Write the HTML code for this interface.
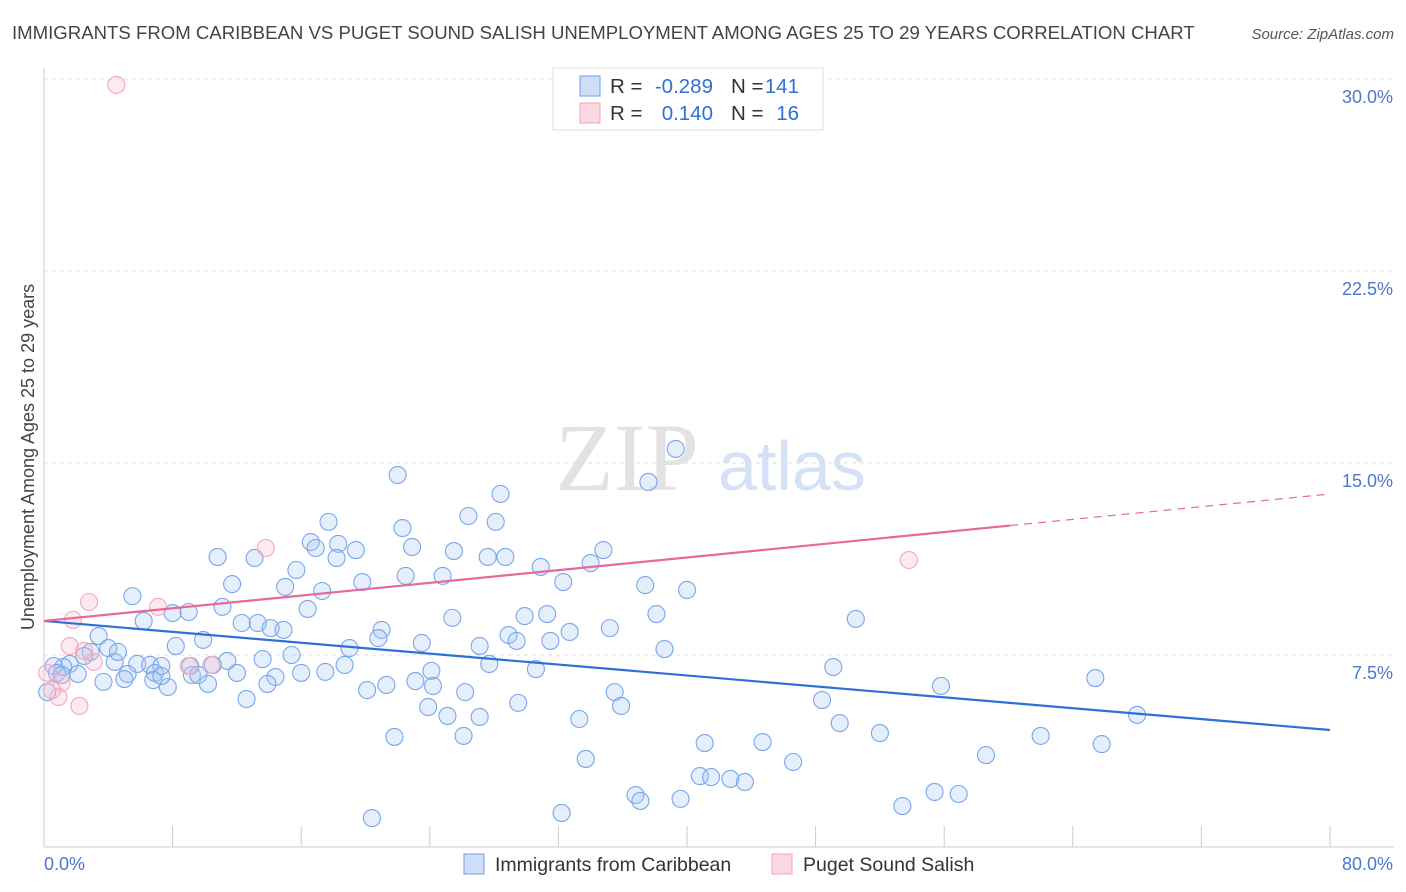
<!DOCTYPE html>
<html><head><meta charset="utf-8">
<style>
body{margin:0;background:#fff;font-family:"Liberation Sans",sans-serif;}
#wrap{position:relative;width:1406px;height:892px;overflow:hidden;}
</style></head>
<body>
<div id="wrap">
<svg id="svg" width="1406" height="892" xmlns="http://www.w3.org/2000/svg"></svg>
</div>
<script>
const blueX=[39.3,37.6,22.0,28.4,26.4,28.1,17.7,22.3,16.6,18.3,16.9,19.4,22.9,25.5,27.6,28.7,34.8,10.8,13.1,18.2,34.0,30.9,15.7,22.5,24.8,11.7,19.8,32.3,37.4,15.0,17.3,40.0,5.5,11.1,16.4,8.0,9.0,29.9,31.3,38.1,25.4,6.2,12.3,13.3,14.1,14.9,21.0,32.7,35.2,50.5,3.4,28.9,20.8,29.4,31.5,9.9,23.5,8.2,19.0,27.1,4.0,38.6,2.9,2.5,15.4,11.4,13.6,4.4,5.8,6.6,7.3,9.1,10.5,18.7,27.7,49.1,1.6,1.2,0.6,0.8,2.1,5.2,6.9,9.2,9.6,12.0,14.4,16.0,17.5,24.1,30.6,65.4,3.7,5.0,6.8,7.7,10.2,13.9,21.3,23.1,24.2,55.8,20.1,26.2,35.5,0.2,12.6,48.4,29.5,35.9,23.9,25.1,27.1,33.3,49.5,68.0,21.8,26.1,52.0,62.0,41.1,44.7,65.8,58.6,33.7,46.6,40.8,41.5,42.7,43.6,36.8,37.1,39.6,55.4,56.9,53.4,32.2,20.4,4.6,1.1,7.3];
const blueY=[15.55,14.26,14.53,13.79,12.93,12.70,12.70,12.46,11.91,11.84,11.68,11.60,11.72,11.56,11.33,11.33,11.60,11.33,11.29,11.29,11.09,10.94,10.82,10.59,10.59,10.27,10.35,10.35,10.23,10.16,10.0,10.04,9.80,9.38,9.30,9.14,9.18,9.02,9.10,9.10,8.95,8.83,8.75,8.75,8.55,8.48,8.48,8.40,8.55,8.91,8.24,8.28,8.16,8.05,8.05,8.09,7.97,7.85,7.77,7.85,7.77,7.73,7.62,7.46,7.50,7.27,7.34,7.23,7.15,7.11,7.07,7.07,7.11,7.11,7.15,7.03,7.15,7.03,7.07,6.80,6.76,6.76,6.80,6.72,6.72,6.80,6.64,6.80,6.84,6.88,6.95,6.60,6.45,6.56,6.52,6.25,6.37,6.37,6.33,6.48,6.29,6.29,6.13,6.05,6.05,6.05,5.78,5.74,5.63,5.51,5.47,5.12,5.08,5.0,4.84,5.16,4.30,4.34,4.45,4.34,4.06,4.10,4.02,3.59,3.44,3.32,2.77,2.73,2.66,2.54,2.03,1.80,1.88,2.15,2.07,1.60,1.33,1.13,7.62,6.72,6.68];
const pinkX=[4.5,13.8,53.8,2.8,7.1,1.8,1.6,2.5,3.1,9.0,10.4,0.2,1.1,0.9,2.2,0.5];
const pinkY=[29.77,11.68,11.21,9.57,9.38,8.87,7.85,7.66,7.23,7.07,7.11,6.80,6.41,5.86,5.51,6.13];
const blueTrend=[8.83,4.57];
const pinkTrend=[8.83,13.79];
const yTicks=[7.5,15.0,22.5,30.0];
const yTickLabels=["7.5%","15.0%","22.5%","30.0%"];

const NS="http://www.w3.org/2000/svg";
const svg=document.getElementById('svg');
const X0=44,X1=1330,Y0=847,PY=25.6;
const sx=v=>X0+(v/80)*(X1-X0);
const sy=v=>Y0-v*PY;
function mk(tag,attrs,parent){const e=document.createElementNS(NS,tag);for(const k in attrs)e.setAttribute(k,attrs[k]);(parent||svg).appendChild(e);return e;}

let t=mk('text',{x:12,y:39,'font-size':18.6,fill:'#444'});t.textContent="IMMIGRANTS FROM CARIBBEAN VS PUGET SOUND SALISH UNEMPLOYMENT AMONG AGES 25 TO 29 YEARS CORRELATION CHART";


t=mk('text',{x:1394,y:39,'font-size':15,fill:'#555','font-style':'italic','text-anchor':'end'});t.textContent="Source: ZipAtlas.com";



t=mk('text',{x:555,y:490,'font-size':96,fill:'#e2e2e2','font-family':'Liberation Serif,serif'});t.textContent="ZIP";


t=mk('text',{x:718,y:490,'font-size':70,fill:'#d5e2f5'});t.textContent="atlas";



yTicks.forEach((v,i)=>{
  const g=mk('line',{x1:X0,x2:1394,y1:sy(v),y2:sy(v),stroke:'#ddd','stroke-dasharray':'4,4'});
  
  
  const l=mk('text',{x:1393,y:sy(v)+24,'font-size':18,fill:'#4a78d0','text-anchor':'end'});l.textContent=yTickLabels[i];
  
  
});
let a=mk('line',{x1:X0,x2:X0,y1:68,y2:Y0,stroke:'#ccc'});


a=mk('line',{x1:X0,x2:1394,y1:Y0,y2:Y0,stroke:'#ccc'});


for(let i=0;i<=10;i++){
  const tk=mk('line',{x1:sx(i*8),x2:sx(i*8),y1:826,y2:Y0,stroke:'#ccc'});
  
  
}
t=mk('text',{x:44,y:870,'font-size':18,fill:'#4a78d0'});t.textContent="0.0%";


t=mk('text',{x:1393,y:870,'font-size':18,fill:'#4a78d0','text-anchor':'end'});t.textContent="80.0%";


t=mk('text',{x:0,y:0,'font-size':18,fill:'#444','text-anchor':'middle',transform:'translate(34,457) rotate(-90)'});t.textContent="Unemployment Among Ages 25 to 29 years";



blueX.forEach((v,i)=>{
  const c=mk('circle',{cx:sx(v),cy:sy(blueY[i]),r:8.5,fill:'rgba(170,198,242,0.3)',stroke:'#78a6ea','stroke-width':1.1});
  
  
});
pinkX.forEach((v,i)=>{
  const c=mk('circle',{cx:sx(v),cy:sy(pinkY[i]),r:8.5,fill:'rgba(248,185,205,0.3)',stroke:'#f2a8be','stroke-width':1.1});
  
  
});
let ln=mk('line',{x1:sx(0),y1:sy(blueTrend[0]),x2:sx(80),y2:sy(blueTrend[1]),stroke:'#2f6fd6','stroke-width':2.2});


const pm=60.1, pv=pinkTrend[0]+(pinkTrend[1]-pinkTrend[0])*pm/80;
ln=mk('line',{x1:sx(0),y1:sy(pinkTrend[0]),x2:sx(pm),y2:sy(pv),stroke:'#e8689a','stroke-width':2.2});


ln=mk('line',{x1:sx(pm),y1:sy(pv),x2:sx(80),y2:sy(pinkTrend[1]),stroke:'#e8689a','stroke-width':1.2,'stroke-dasharray':'8,6'});



const lg=mk('g',{});


mk('rect',{x:553,y:68,width:270,height:62,fill:'#fff',stroke:'#ddd'},lg);
mk('rect',{x:580,y:76,width:20,height:20,fill:'rgba(160,190,240,0.5)',stroke:'#6f9fe6'},lg);
mk('rect',{x:580,y:103,width:20,height:20,fill:'rgba(248,180,200,0.5)',stroke:'#f0a3ba'},lg);
function lt(x,y,s,c,anchor){const e=mk('text',{x:x,y:y,'font-size':20.5,fill:c,'text-anchor':anchor||'start'},lg);e.textContent=s;return e;}
lt(610,93,"R =","#333");lt(713,93,"-0.289","#2f6fd6","end");lt(731,93,"N =","#333");lt(799,93,"141","#2f6fd6","end");
lt(610,120,"R =","#333");lt(713,120,"0.140","#2f6fd6","end");lt(731,120,"N =","#333");lt(799,120,"16","#2f6fd6","end");

const bl=mk('g',{});


mk('rect',{x:464,y:854,width:20,height:20,fill:'rgba(160,190,240,0.5)',stroke:'#6f9fe6'},bl);
let e=mk('text',{x:495,y:871,'font-size':19.5,fill:'#333'},bl);e.textContent="Immigrants from Caribbean";
mk('rect',{x:772,y:854,width:20,height:20,fill:'rgba(248,180,200,0.5)',stroke:'#f0a3ba'},bl);
e=mk('text',{x:803,y:871,'font-size':19.5,fill:'#333'},bl);e.textContent="Puget Sound Salish";
</script>
</body></html>
